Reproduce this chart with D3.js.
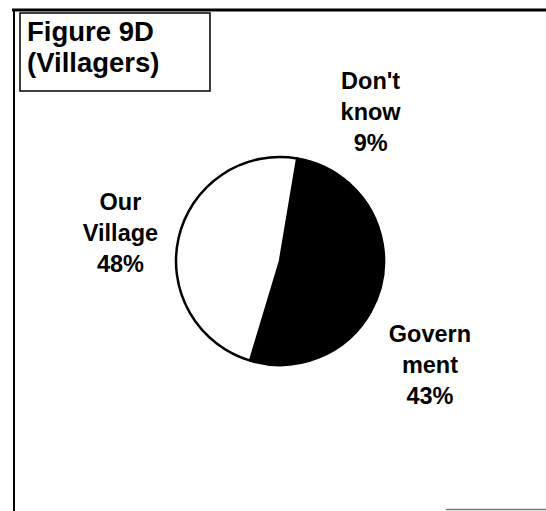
<!DOCTYPE html>
<html lang="en">
<head>
  <meta charset="UTF-8">
  <title>Figure 9D</title>
  <script src="https://cdn.jsdelivr.net/npm/d3@7.6.1/dist/d3.min.js"></script>
  <style>
    html, body { margin: 0; padding: 0; background: #fff; }
    svg { display: block; }
    text { font-family: "Liberation Sans", Arial, sans-serif; font-weight: bold; fill: #000; }
  </style>
</head>
<body>
  <div id="box"></div>
  <script>
    const width = 546
    const height = 511

    // data
    const categories = ["Don't know", 'Government', 'Our Village']
    const values = [9, 43, 48]
    const labelLines = [["Don't", 'know'], ['Govern', 'ment'], ['Our', 'Village']]
    const fills = ['#000', '#000', '#fff']
    const titleLines = ['Figure 9D', '(Villagers)']

    const cx = 280, cy = 261, r = 104
    const labelR = 172
    // small hand nudges so the labels sit where the scan has them
    const nudge = [[16, 6], [0, 20], [8, 11]]

    const svg = d3.select('#box').append('svg')
      .attr('width', width)
      .attr('height', height)

    // outer frame (scan edges)
    svg.append('line').attr('x1', 12).attr('x2', width).attr('y1', 10).attr('y2', 10)
      .attr('stroke', '#000').attr('stroke-width', 3)
    svg.append('line').attr('x1', 14).attr('x2', 14).attr('y1', 9).attr('y2', height)
      .attr('stroke', '#000').attr('stroke-width', 2)
    svg.append('line').attr('x1', 446).attr('x2', width).attr('y1', 509.5).attr('y2', 509.5)
      .attr('stroke', '#777').attr('stroke-width', 1.5)

    // title box
    svg.append('rect').attr('x', 20).attr('y', 13).attr('width', 190).attr('height', 78)
      .attr('fill', 'none').attr('stroke', '#000').attr('stroke-width', 1.5)
    svg.append('g').selectAll('text').data(titleLines).join('text')
      .attr('x', 27)
      .attr('y', (d, i) => 41 + i * 31)
      .attr('font-size', 27.5)
      .text(d => d)

    // pie
    const pie = d3.pie().sort(null).startAngle(0.166).endAngle(0.166 + 2 * Math.PI)
    const arcs = pie(values)
    const arc = d3.arc().innerRadius(0).outerRadius(r)
    const labelArc = d3.arc().innerRadius(labelR).outerRadius(labelR)

    const g = svg.append('g').attr('transform', `translate(${cx},${cy})`)
    g.selectAll('path').data(arcs).join('path')
      .attr('d', arc)
      .attr('fill', (d, i) => fills[i])
      .attr('stroke', '#000')
      .attr('stroke-width', 2.5)
      .attr('stroke-linejoin', 'round')

    // labels
    const lh = 31
    arcs.forEach((a, i) => {
      const [x, y] = labelArc.centroid(a)
      const lines = labelLines[i].concat([values[i] + '%'])
      g.append('text')
        .attr('text-anchor', 'middle')
        .attr('font-size', 23.5)
        .selectAll('tspan').data(lines).join('tspan')
        .attr('x', x + nudge[i][0])
        .attr('y', (d, j) => y + nudge[i][1] + (j - 1) * lh + 8)
        .text(d => d)
    })
  </script>
</body>
</html>
